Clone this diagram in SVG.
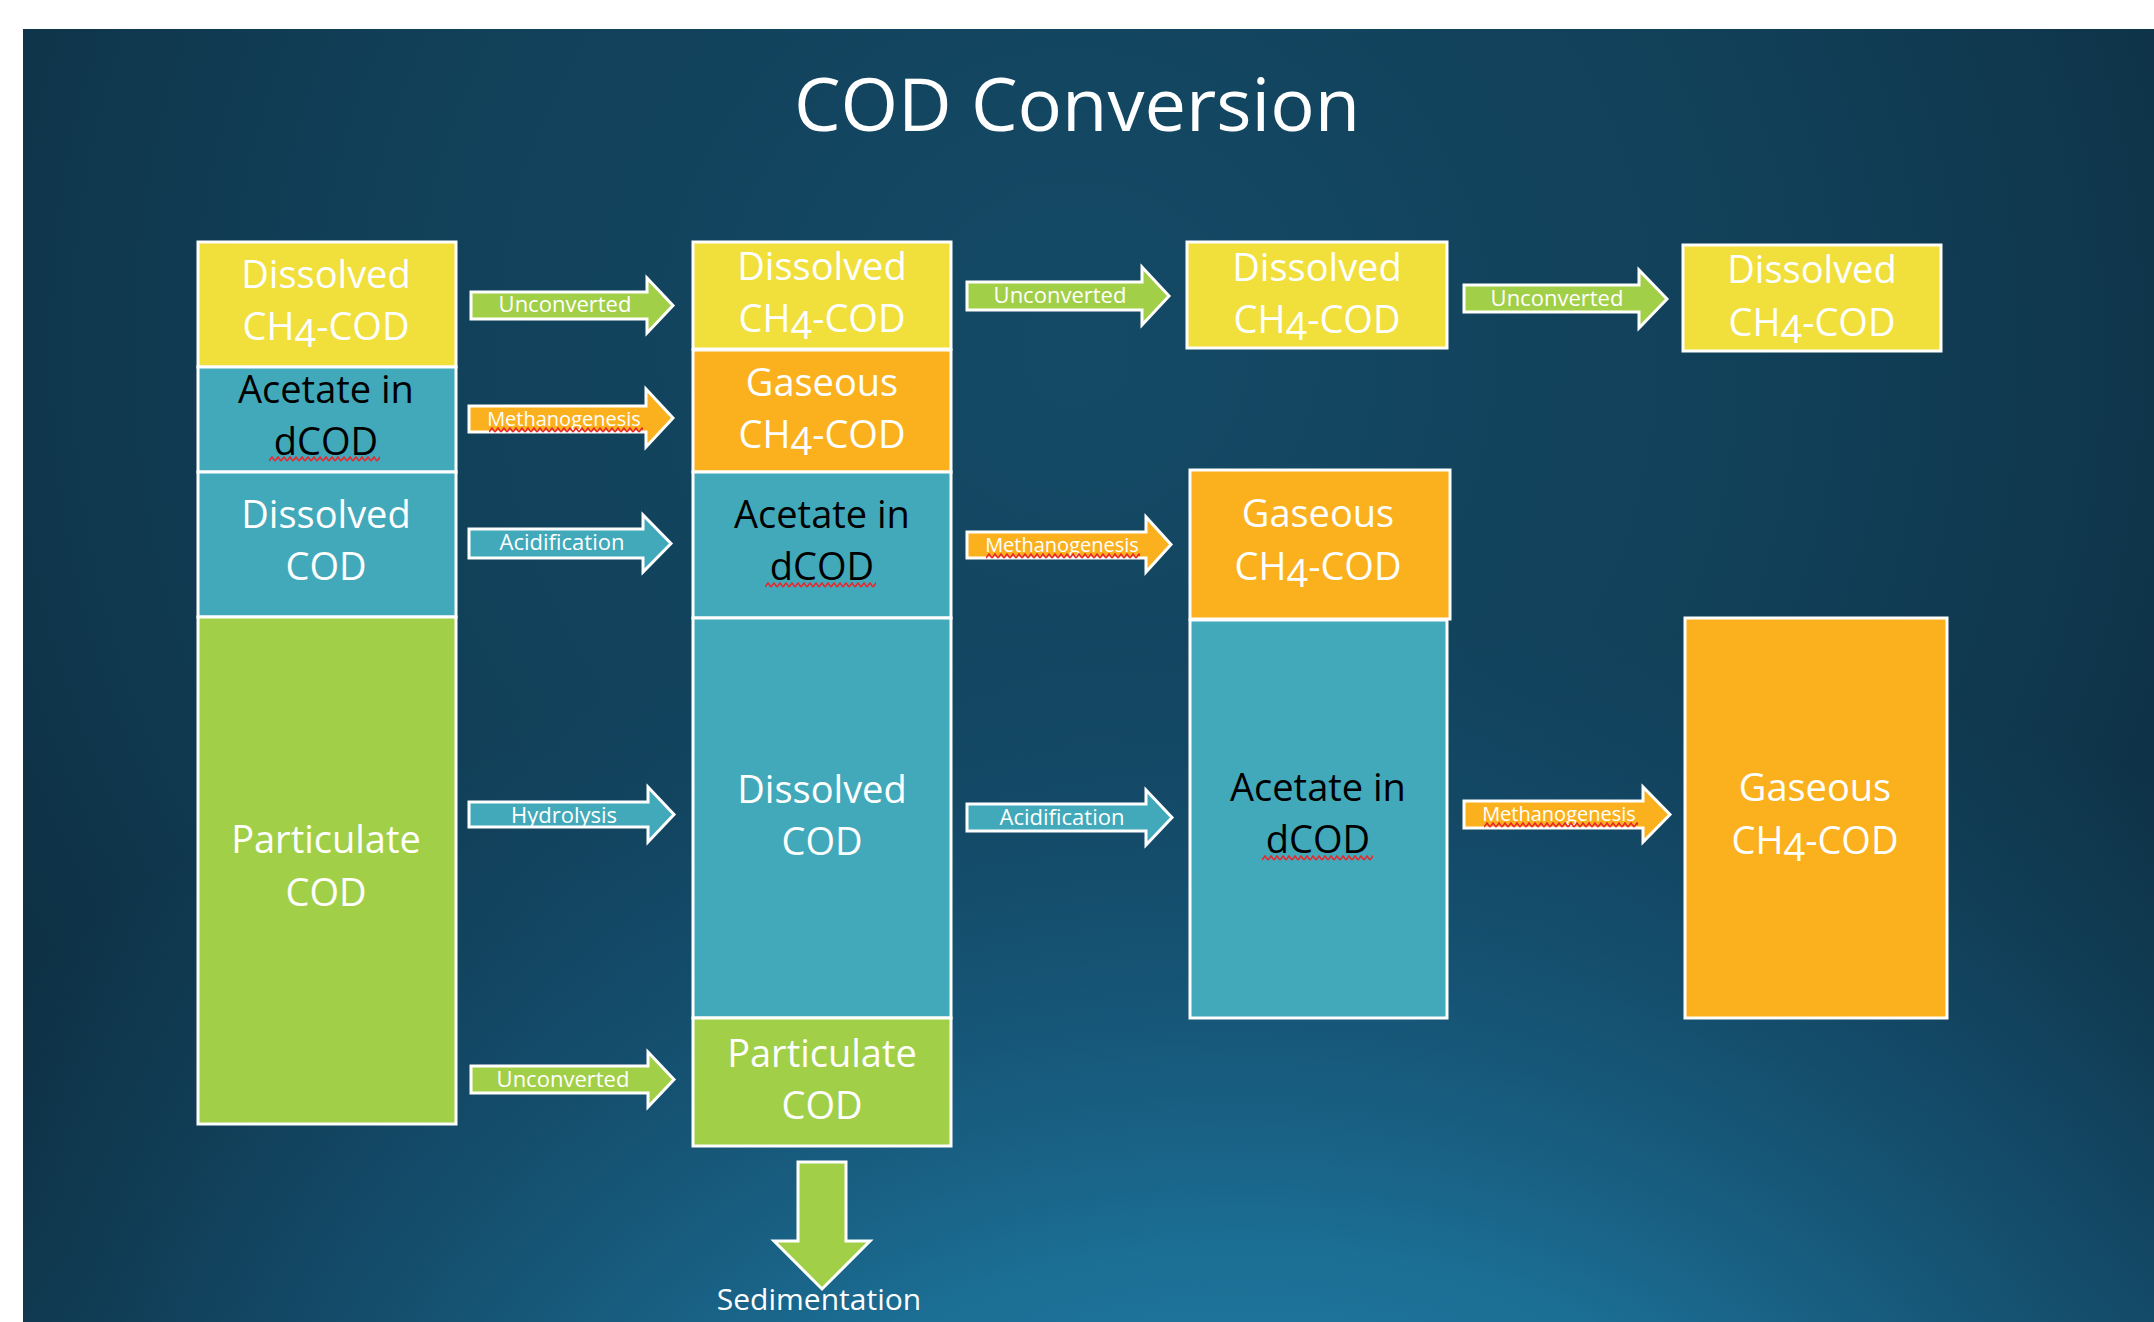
<svg xmlns="http://www.w3.org/2000/svg" width="2154" height="1322" viewBox="0 0 2154 1322">
<defs>
<radialGradient id="bg1" gradientUnits="userSpaceOnUse" cx="1077" cy="350" r="1350">
<stop offset="0" stop-color="#144a66"/>
<stop offset="0.55" stop-color="#113f58"/>
<stop offset="1" stop-color="#0d2d3f"/>
</radialGradient>
<radialGradient id="bg2" gradientUnits="userSpaceOnUse" cx="1250" cy="1600" r="1000" gradientTransform="translate(1250 1600) scale(1.6 1) translate(-1250 -1600)">
<stop offset="0" stop-color="#2288b4" stop-opacity="1"/>
<stop offset="0.35" stop-color="#1e78a1" stop-opacity="0.85"/>
<stop offset="0.7" stop-color="#185f86" stop-opacity="0.45"/>
<stop offset="1" stop-color="#154f70" stop-opacity="0"/>
</radialGradient>
<pattern id="sq" patternUnits="userSpaceOnUse" width="6" height="6">
<path d="M0 5 L3 1 L6 5" fill="none" stroke="#e8262b" stroke-width="1.6"/>
</pattern>
</defs>
<style>
.box{stroke:#ffffff;stroke-width:3}
.yel{fill:#f1df3c}
.teal{fill:#42a9ba}
.grn{fill:#a2cf48}
.org{fill:#fbb11d}
.t{font-family:"Open Sans","DejaVu Sans",sans-serif;font-size:38px;text-anchor:middle;fill:#ffffff}
.dk{fill:#000000}
.arr{stroke:#ffffff;stroke-width:3;stroke-linejoin:miter}
.lbl{font-family:"Open Sans","DejaVu Sans",sans-serif;font-size:22px;text-anchor:middle;fill:#ffffff}
.lm{font-size:20px}
.title{font-family:"Open Sans","DejaVu Sans",sans-serif;font-size:74px;text-anchor:middle;fill:#ffffff}
</style>
<rect x="0" y="0" width="2154" height="1322" fill="#ffffff"/>
<rect x="23" y="29" width="2131" height="1293" fill="url(#bg1)"/>
<rect x="23" y="29" width="2131" height="1293" fill="url(#bg2)"/>
<text class="title" x="1077" y="131">COD Conversion</text>

<g id="c1-dissolved-ch4">
<rect class="box yel" x="198" y="242" width="258" height="125"/>
<text class="t" x="326" y="288">Dissolved</text>
<text class="t" x="326" y="340">CH<tspan dy="7">4</tspan><tspan dy="-7">-COD</tspan></text>
</g>
<g id="c1-acetate">
<rect class="box teal" x="198" y="367" width="258" height="105"/>
<text class="t dk" x="326" y="403">Acetate in</text>
<text class="t dk" x="326" y="455">dCOD</text>
<rect x="0" y="0" width="111" height="6" fill="url(#sq)" transform="translate(269,456)"/>
</g>
<g id="c1-dissolved-cod">
<rect class="box teal" x="198" y="472" width="258" height="145"/>
<text class="t" x="326" y="528">Dissolved</text>
<text class="t" x="326" y="580">COD</text>
</g>
<g id="c1-particulate">
<rect class="box grn" x="198" y="617" width="258" height="507"/>
<text class="t" x="326" y="853">Particulate</text>
<text class="t" x="326" y="906">COD</text>
</g>

<g id="c2-dissolved-ch4">
<rect class="box yel" x="693" y="242" width="258" height="107"/>
<text class="t" x="822" y="280">Dissolved</text>
<text class="t" x="822" y="332">CH<tspan dy="7">4</tspan><tspan dy="-7">-COD</tspan></text>
</g>
<g id="c2-gaseous">
<rect class="box org" x="693" y="350" width="258" height="122"/>
<text class="t" x="822" y="396">Gaseous</text>
<text class="t" x="822" y="448">CH<tspan dy="7">4</tspan><tspan dy="-7">-COD</tspan></text>
</g>
<g id="c2-acetate">
<rect class="box teal" x="693" y="472" width="258" height="146"/>
<text class="t dk" x="822" y="528">Acetate in</text>
<text class="t dk" x="822" y="580">dCOD</text>
<rect x="0" y="0" width="111" height="6" fill="url(#sq)" transform="translate(765,582)"/>
</g>
<g id="c2-dissolved-cod">
<rect class="box teal" x="693" y="618" width="258" height="400"/>
<text class="t" x="822" y="803">Dissolved</text>
<text class="t" x="822" y="855">COD</text>
</g>
<g id="c2-particulate">
<rect class="box grn" x="693" y="1018" width="258" height="128"/>
<text class="t" x="822" y="1067">Particulate</text>
<text class="t" x="822" y="1119">COD</text>
</g>

<g id="c3-dissolved-ch4">
<rect class="box yel" x="1187" y="242" width="260" height="106"/>
<text class="t" x="1317" y="281">Dissolved</text>
<text class="t" x="1317" y="333">CH<tspan dy="7">4</tspan><tspan dy="-7">-COD</tspan></text>
</g>
<g id="c3-gaseous">
<rect class="box org" x="1190" y="470" width="260" height="149"/>
<text class="t" x="1318" y="527">Gaseous</text>
<text class="t" x="1318" y="580">CH<tspan dy="7">4</tspan><tspan dy="-7">-COD</tspan></text>
</g>
<g id="c3-acetate">
<rect class="box teal" x="1190" y="620" width="257" height="398"/>
<text class="t dk" x="1318" y="801">Acetate in</text>
<text class="t dk" x="1318" y="853">dCOD</text>
<rect x="0" y="0" width="111" height="6" fill="url(#sq)" transform="translate(1262,855)"/>
</g>

<g id="c4-dissolved-ch4">
<rect class="box yel" x="1683" y="245" width="258" height="106"/>
<text class="t" x="1812" y="283">Dissolved</text>
<text class="t" x="1812" y="336">CH<tspan dy="7">4</tspan><tspan dy="-7">-COD</tspan></text>
</g>
<g id="c4-gaseous">
<rect class="box org" x="1685" y="618" width="262" height="400"/>
<text class="t" x="1815" y="801">Gaseous</text>
<text class="t" x="1815" y="854">CH<tspan dy="7">4</tspan><tspan dy="-7">-COD</tspan></text>
</g>

<g id="connectors">
<g id="a1">
<polygon class="arr grn" points="471,292 647,292 647,278 673,305.5 647,333 647,319 471,319"/>
<text class="lbl" x="565" y="312">Unconverted</text>
</g>
<g id="a2">
<polygon class="arr org" points="469,406 646,406 646,389 673,418 646,447 646,432 469,432"/>
<text class="lbl lm" x="564" y="426">Methanogenesis</text>
<rect x="0" y="0" width="154" height="6" fill="url(#sq)" transform="translate(489,427)"/>
</g>
<g id="a3">
<polygon class="arr teal" points="469,529 643,529 643,515 671,543.5 643,572 643,558 469,558"/>
<text class="lbl dk" x="562" y="550">Acidification</text>
</g>
<g id="a4">
<polygon class="arr teal" points="469,802 648,802 648,787 674,814.5 648,842 648,827 469,827"/>
<text class="lbl" x="564" y="823">Hydrolysis</text>
</g>
<g id="a5">
<polygon class="arr grn" points="471,1066 648,1066 648,1052 674,1079.5 648,1107 648,1093 471,1093"/>
<text class="lbl" x="563" y="1087">Unconverted</text>
</g>
<g id="b1">
<polygon class="arr grn" points="967,282 1142,282 1142,267 1169,296 1142,325 1142,310 967,310"/>
<text class="lbl" x="1060" y="303">Unconverted</text>
</g>
<g id="b2">
<polygon class="arr org" points="967,532 1146,532 1146,517 1171,544.5 1146,572 1146,558 967,558"/>
<text class="lbl lm" x="1062" y="552">Methanogenesis</text>
<rect x="0" y="0" width="154" height="6" fill="url(#sq)" transform="translate(986,553)"/>
</g>
<g id="b3">
<polygon class="arr teal" points="967,804 1146,804 1146,790 1172,817.5 1146,845 1146,831 967,831"/>
<text class="lbl dk" x="1062" y="825">Acidification</text>
</g>
<g id="c1">
<polygon class="arr grn" points="1464,285 1639,285 1639,270 1667,299 1639,328 1639,312 1464,312"/>
<text class="lbl" x="1557" y="306">Unconverted</text>
</g>
<g id="c2">
<polygon class="arr org" points="1464,801 1643,801 1643,787 1670,814.5 1643,842 1643,828 1464,828"/>
<text class="lbl lm" x="1559" y="821">Methanogenesis</text>
<rect x="0" y="0" width="154" height="6" fill="url(#sq)" transform="translate(1484,822)"/>
</g>
<g id="d1">
<polygon class="arr grn" points="798,1162 846,1162 846,1241 870,1241 822,1289 774,1241 798,1241"/>
<text class="lbl" style="font-size:30px" x="819" y="1310">Sedimentation</text>
</g>
</g>
</svg>
